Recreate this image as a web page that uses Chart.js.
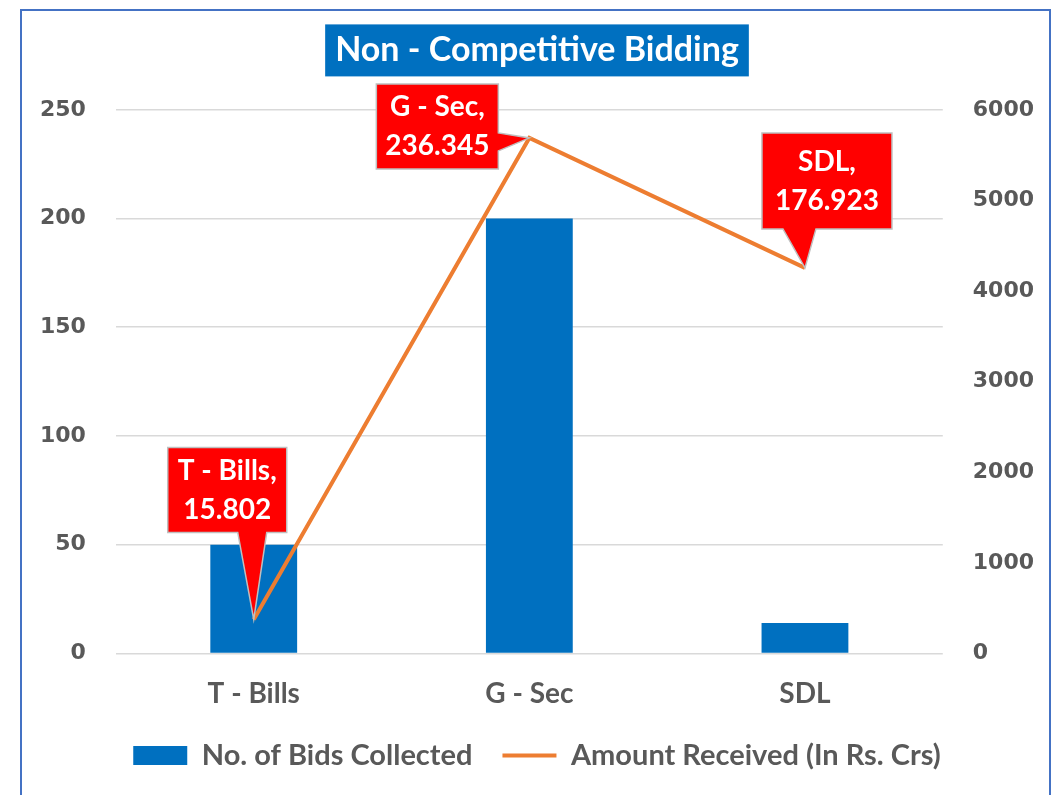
<!DOCTYPE html>
<html><head><meta charset="utf-8">
<script src="https://cdn.jsdelivr.net/npm/chart.js@4.4.0/dist/chart.umd.min.js"></script>
<style>html,body{margin:0;padding:0;background:#fff;overflow:hidden}</style>
</head><body>
<canvas id="c" width="1056" height="795"></canvas>
<script>
const categories = ['T - Bills', 'G - Sec', 'SDL'];
const bidsCollected = [50, 200, 14];
const amountReceived = [375, 5690, 4255];
const calloutLabels = [['T - Bills,', '15.802'], ['G - Sec,', '236.345'], ['SDL,', '176.923']];
const titleText = 'Non - Competitive Bidding';
const seriesNames = ['No. of Bids Collected', 'Amount Received (In Rs. Crs)'];

const FONT = 'Lato, "Open Sans", sans-serif';
const TICKFONT = '"DejaVu Sans", sans-serif';

const calloutShapes = [
  {x0:-86, y0:-172, x1:33, y1:-87, side:'bottom', a:-16, b:13},
  {x0:-153, y0:-54, x1:-31, y1:31, side:'right', a:-5, b:13},
  {x0:-43, y0:-135, x1:87, y1:-39, side:'bottom', a:-22, b:11}
];

const framePlugin = {
  id: 'frame',
  beforeDraw(chart) {
    const ctx = chart.ctx;
    ctx.save();
    ctx.fillStyle = '#ffffff';
    ctx.fillRect(0, 0, chart.width, chart.height);
    ctx.strokeStyle = '#4472C4';
    ctx.lineWidth = 2;
    ctx.strokeRect(21, 10, 1029, 820);
    const t = chart.titleBlock;
    const topts = chart.options.plugins.title;
    ctx.font = 'bold ' + topts.font.size + 'px ' + FONT;
    const w = ctx.measureText(topts.text).width;
    const cx = (t.left + t.right) / 2;
    const lh = topts.font.size * topts.font.lineHeight;
    const cy = t.top + topts.padding.top + lh / 2;
    ctx.fillStyle = '#0070C0';
    ctx.fillRect(cx - w / 2 - 10, cy - 26, w + 20, 52);
    ctx.restore();
  }
};

const calloutPlugin = {
  id: 'callouts',
  afterDatasetsDraw(chart) {
    const ctx = chart.ctx;
    const meta = chart.getDatasetMeta(1);
    meta.data.forEach((pt, i) => {
      const px = pt.x, py = pt.y, s = calloutShapes[i];
      const L = px + s.x0, T = py + s.y0, R = px + s.x1, B = py + s.y1;
      ctx.save();
      ctx.beginPath();
      ctx.moveTo(L, T); ctx.lineTo(R, T);
      if (s.side === 'right') { ctx.lineTo(R, py + s.a); ctx.lineTo(px, py); ctx.lineTo(R, py + s.b); }
      ctx.lineTo(R, B);
      if (s.side === 'bottom') { ctx.lineTo(px + s.b, B); ctx.lineTo(px, py); ctx.lineTo(px + s.a, B); }
      ctx.lineTo(L, B);
      ctx.closePath();
      ctx.fillStyle = '#FF0000';
      ctx.fill();
      ctx.strokeStyle = '#BFBFBF';
      ctx.lineWidth = 1.5;
      ctx.stroke();
      ctx.fillStyle = '#ffffff';
      ctx.font = 'bold 28px ' + FONT;
      ctx.textAlign = 'center';
      ctx.textBaseline = 'middle';
      const cx = (L + R) / 2, cy = (T + B) / 2;
      ctx.fillText(calloutLabels[i][0], cx, cy - 19);
      ctx.fillText(calloutLabels[i][1], cx, cy + 20);
      ctx.restore();
    });
  }
};

new Chart(document.getElementById('c'), {
  data: {
    labels: categories,
    datasets: [
      {
        type: 'bar', label: seriesNames[0], data: bidsCollected,
        backgroundColor: '#0070C0', borderWidth: 0, yAxisID: 'y', order: 1,
        categoryPercentage: 1, barPercentage: 0.315
      },
      {
        type: 'line', label: seriesNames[1], data: amountReceived,
        borderColor: '#ED7D31', backgroundColor: '#ED7D31', borderWidth: 4,
        pointRadius: 0, yAxisID: 'y1', order: 0, tension: 0
      }
    ]
  },
  options: {
    responsive: false,
    animation: false,
    layout: { padding: { left: 40, right: 22, top: 0, bottom: 15 } },
    plugins: {
      tooltip: { enabled: false },
      title: {
        display: true, text: titleText, color: '#ffffff',
        font: { family: FONT, size: 34, weight: 'bold', lineHeight: 1.2 },
        padding: { top: 30, bottom: 39 }
      },
      legend: {
        position: 'bottom',
        labels: {
          color: '#595959',
          font: { family: FONT, size: 29, weight: 'bold' },
          usePointStyle: true,
          pointStyleWidth: 54,
          boxHeight: 19,
          padding: 30,
          generateLabels(chart) {
            return chart.data.datasets.map((ds, i) => ({
              text: ds.label,
              datasetIndex: i,
              fillStyle: ds.type === 'bar' ? '#0070C0' : '#ED7D31',
              strokeStyle: ds.type === 'bar' ? '#0070C0' : '#ED7D31',
              lineWidth: ds.type === 'bar' ? 0 : 4,
              pointStyle: ds.type === 'bar' ? 'rect' : 'line',
              fontColor: '#595959',
              hidden: false
            }));
          }
        }
      }
    },
    scales: {
      x: {
        grid: { display: false, drawTicks: false },
        border: { display: false },
        ticks: { color: '#595959', padding: 24, font: { family: FONT, size: 28, weight: 'bold' } },
        afterFit(scale) { scale.height -= 24; }
      },
      y: {
        position: 'left', min: 0, max: 250,
        ticks: { stepSize: 50, color: '#595959', padding: 30, font: { family: TICKFONT, size: 22, weight: 'bold' } },
        grid: { color: '#D9D9D9', lineWidth: 1.5, drawTicks: false },
        border: { display: false },
        afterFit(scale) { scale.width -= 30; }
      },
      y1: {
        position: 'right', min: 0, max: 6000,
        ticks: { stepSize: 1000, color: '#595959', padding: 30, font: { family: TICKFONT, size: 22, weight: 'bold' },
                 callback: (v) => String(v) },
        grid: { display: false, drawTicks: false },
        border: { display: false },
        afterFit(scale) { scale.width -= 30; }
      }
    }
  },
  plugins: [framePlugin, calloutPlugin]
});
</script>
</body></html>
